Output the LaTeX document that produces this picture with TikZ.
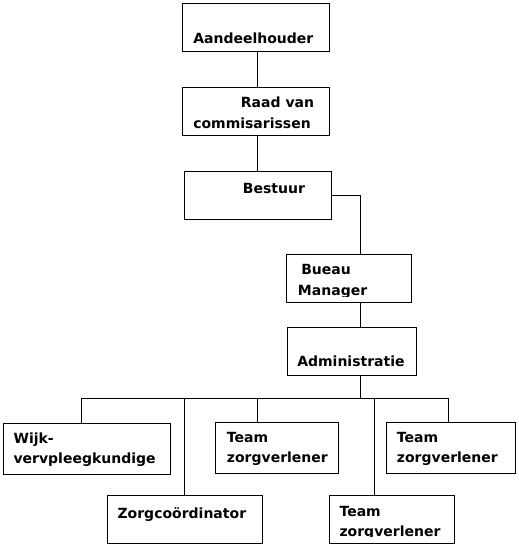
\documentclass[tikz,border=0pt]{standalone}
\usepackage{fontspec}
\setmainfont{DejaVu Sans}
\usepackage{tikz}
\usetikzlibrary{fit, calc}
\usepackage{xcolor}
\definecolor{orgInk}{HTML}{000000}

\begin{document}
\begin{tikzpicture}[
  x=0.75pt, y=-0.75pt,
  font=\fontsize{10.5}{12}\selectfont\bfseries,
  orgbox/.style={draw=orgInk, line width=0.75pt, inner sep=0pt},
  lbl/.style={text=orgInk, inner sep=0pt, anchor=base west},
  wire/.style={draw=orgInk, line width=0.75pt},
]
\useasboundingbox (0,0) rectangle (518,546);

% Boxes, by top left and bottom right corner (pixels, y downwards).
\foreach \name/\xa/\ya/\xb/\yb in {
    aandeel/182.3/3.3/329.3/51.3,
    raad/182.3/87.3/329.3/135.3,
    bestuur/184.3/171.3/331.7/219.3,
    bureau/286.3/254.3/411.7/302.3,
    admin/287.3/327.3/416.3/375.3,
    wijk/3.3/423/170.3/474.3,
    teamA/215.3/422.3/338.3/473.3,
    teamB/386.3/422.3/515.3/473.3,
    zorg/107/495.7/262.3/543.3,
    teamC/329.3/495.7/454/543.3}
  \node[orgbox, fit={(\xa,\ya) (\xb,\yb)}] (\name) {};

% ============================ the chain on top ==============================
\coordinate (topspine) at (257.3,0);
\coordinate (midspine) at (360.3,0);
\draw[wire] (aandeel.south -| topspine) -- (raad.north -| topspine);
\draw[wire] (raad.south -| topspine) -- (bestuur.north -| topspine);
\draw[wire] (bestuur.east) -| (bureau.north -| midspine);
\draw[wire] (bureau.south -| midspine) -- (admin.north -| midspine);

% ============================ the bus below =================================
\coordinate (bus) at (360.3,398.3);
\coordinate (busL) at (81.7,398.3);
\coordinate (busR) at (448.3,398.3);
\draw[wire] (admin.south -| midspine) -- (bus);
\draw[wire] (busL) -- (busR);
\foreach \bx/\target in {81.7/wijk, 184.3/zorg, 257/teamA, 374.3/teamC, 448.3/teamB} {
  \coordinate (drop) at (\bx,398.3);
  \draw[wire] (drop) -- (drop |- \target.north);}

% ================================ texts =====================================
\node[lbl] (tAandeel) at (193,43) {Aandeelhouder};
\node[lbl] (tRaad) at (240.7,107.3) {Raad van};
\node[lbl] (tComm) at (193,128.7) {commisarissen};
\node[lbl] (tBestuur) at (242.7,193.3) {Bestuur};
\node[lbl] (tBueau) at (301,274.7) {Bueau};
% the frame of the text cuts off the descender of the second line
\begin{scope}
  \clip (bureau.north west) rectangle ($(bureau.south east)+(0,-6)$);
  \node[lbl] (tManager) at (297.7,295.3) {Manager};
\end{scope}
\node[lbl] (tAdmin) at (297,366.7) {Administratie};
\node[lbl] (tWijk) at (13.3,443.3) {Wijk-};
\node[lbl] (tVerv) at (13.3,463.3) {vervpleegkundige};
\node[lbl] (tTeamA) at (226.7,442.7) {Team};
\node[lbl] (tZorgA) at (226.7,462.7) {zorgverlener};
\node[lbl] (tTeamB) at (396.7,442.7) {Team};
\node[lbl] (tZorgB) at (396.7,462.7) {zorgverlener};
\node[lbl] (tZorg) at (117.3,518.3) {Zorgcoördinator};
\node[lbl] (tTeamC) at (339.3,516) {Team};
\begin{scope}
  \clip (teamC.north west) rectangle ($(teamC.south east)+(0,-7)$);
  \node[lbl] (tZorgC) at (339.3,536) {zorgverlener};
\end{scope}
\end{tikzpicture}
\end{document}
